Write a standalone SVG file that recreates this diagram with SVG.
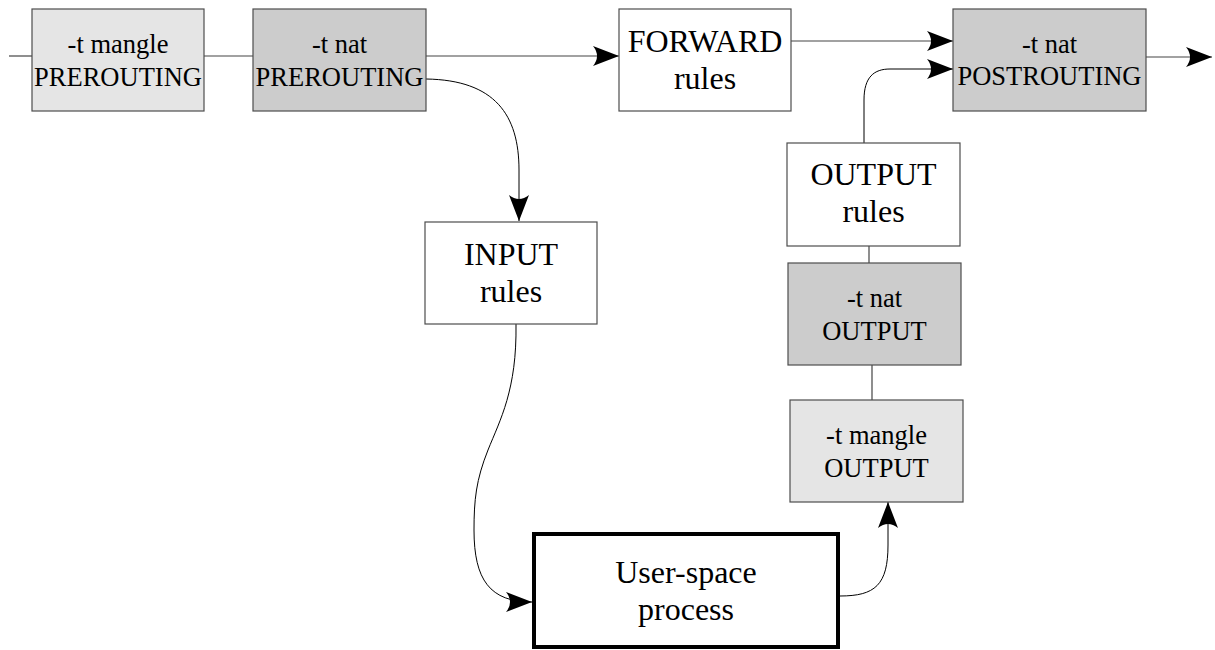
<svg xmlns="http://www.w3.org/2000/svg" width="1215" height="650" viewBox="0 0 1215 650">
  <style>
    .box { stroke: #4d4d4d; stroke-width: 1.2; }
    .light { fill: #e5e5e5; }
    .dark { fill: #cccccc; }
    .white { fill: #ffffff; }
    .txt { font-family: "Liberation Serif", "Times New Roman", serif; fill: #000; text-anchor: middle; }
    .s { font-size: 26.5px; }
    .l { font-size: 32px; }
    .line { fill: none; stroke: #444; stroke-width: 1.2; }
    .curve { fill: none; stroke: #000; stroke-width: 1; }
  </style>
  <defs>
    <marker id="arrow" viewBox="0 0 26 20" refX="26" refY="10" markerWidth="26" markerHeight="20" markerUnits="userSpaceOnUse" orient="auto">
      <path d="M0,0 L26,10 L0,20 Q8,10 0,0 Z" fill="#000"/>
    </marker>
  </defs>
  <rect width="1215" height="650" fill="#ffffff"/>

  <!-- connectors -->
  <g id="connectors">
    <path class="line" d="M9,56 H32"/>
    <path class="line" d="M204,56 H253"/>
    <path class="line" d="M426,56 H619" marker-end="url(#arrow)"/>
    <path class="curve" d="M426,79 C495,80 519,115 519,170 V221" marker-end="url(#arrow)"/>
    <path class="curve" d="M516,324 C517,390 500,420 488,450 C476,480 474,500 474,530 C474,580 490,602 532,602" marker-end="url(#arrow)"/>
    <path class="curve" d="M840,596 C875,596 888,585 888,545 V502" marker-end="url(#arrow)"/>
    <path class="line" d="M872,365 V400"/>
    <path class="line" d="M869,246 V263"/>
    <path class="curve" d="M864,143 V100 C864,77 874,69 890,69 H953" marker-end="url(#arrow)"/>
    <path class="line" d="M791,41 H953" marker-end="url(#arrow)"/>
    <path class="line" d="M1146,57 H1212" marker-end="url(#arrow)"/>
  </g>

  <g id="mangle-prerouting">
    <rect class="box light" x="32" y="9" width="172" height="102"/>
    <text class="txt s" x="118" y="53">-t mangle</text>
    <text class="txt s" x="118" y="86">PREROUTING</text>
  </g>

  <g id="nat-prerouting">
    <rect class="box dark" x="253" y="9" width="173" height="102"/>
    <text class="txt s" x="339.5" y="53">-t nat</text>
    <text class="txt s" x="339.5" y="86">PREROUTING</text>
  </g>

  <g id="forward">
    <rect class="box white" x="619" y="9" width="172" height="102"/>
    <text class="txt l" x="705" y="52">FORWARD</text>
    <text class="txt l" x="705" y="89">rules</text>
  </g>

  <g id="nat-postrouting">
    <rect class="box dark" x="953" y="9" width="193" height="102"/>
    <text class="txt s" x="1049.5" y="53">-t nat</text>
    <text class="txt s" x="1049.5" y="85">POSTROUTING</text>
  </g>

  <g id="input">
    <rect class="box white" x="425" y="222" width="172" height="102"/>
    <text class="txt l" x="511" y="265">INPUT</text>
    <text class="txt l" x="511" y="302">rules</text>
  </g>

  <g id="output">
    <rect class="box white" x="787" y="143" width="173" height="103"/>
    <text class="txt l" x="873.5" y="185">OUTPUT</text>
    <text class="txt l" x="873.5" y="222">rules</text>
  </g>

  <g id="nat-output">
    <rect class="box dark" x="788" y="263" width="173" height="102"/>
    <text class="txt s" x="874.5" y="307">-t nat</text>
    <text class="txt s" x="874.5" y="340">OUTPUT</text>
  </g>

  <g id="mangle-output">
    <rect class="box light" x="790" y="400" width="173" height="102"/>
    <text class="txt s" x="876.5" y="444">-t mangle</text>
    <text class="txt s" x="876.5" y="477">OUTPUT</text>
  </g>

  <g id="user-space">
    <rect x="534" y="534" width="304" height="113" fill="#ffffff" stroke="#000" stroke-width="4"/>
    <text class="txt l" x="686" y="583">User-space</text>
    <text class="txt l" x="686" y="620">process</text>
  </g>
</svg>
